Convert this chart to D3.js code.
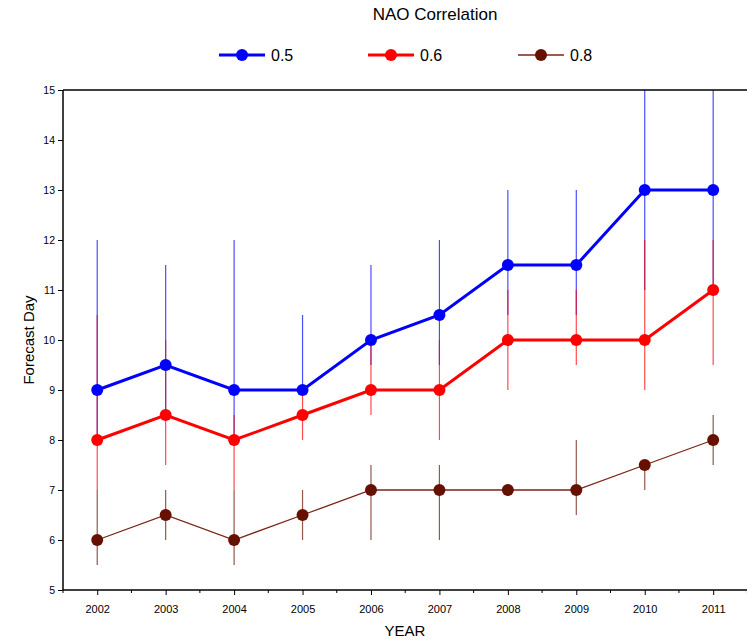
<!DOCTYPE html>
<html><head><meta charset="utf-8">
<script src="https://cdn.jsdelivr.net/npm/d3@7"></script>
<style>body{margin:0;background:#fff}svg{display:block;font-family:"Liberation Sans",Arial,sans-serif}</style>
</head><body><svg id="c" width="747" height="640"></svg>
<script>
const years = [2002,2003,2004,2005,2006,2007,2008,2009,2010,2011];
const seriesNames = ["0.5","0.6","0.8"];
const v05 = [9,9.5,9,9,10,10.5,11.5,11.5,13,13];
const lo05 = [8,8.5,8,9,9.5,9.5,10.5,10.5,11,11];
const hi05 = [12,11.5,12,10.5,11.5,12,13,13,15,15];
const v06 = [8,8.5,8,8.5,9,9,10,10,10,11];
const lo06 = [7,7.5,7,8,8.5,8,9,9.5,9,9.5];
const hi06 = [10.5,10,8.5,9,10,10,11,11,12,12];
const v08 = [6,6.5,6,6.5,7,7,7,7,7.5,8];
const lo08 = [5.5,6,5.5,6,6,6,7,6.5,7,7.5];
const hi08 = [7,7,7,7,7.5,7.5,7,8,7.5,8.5];
const yTicks = [5,6,7,8,9,10,11,12,13,14,15];
const colors = ["#0000ff","#ff0000","#661100"];
const lineColors = ["#0000ff","#ff0000","#7a2416"];
const lineWidths = [3,3,1.3];

const series = [
  {name:seriesNames[0], v:v05, lo:lo05, hi:hi05},
  {name:seriesNames[1], v:v06, lo:lo06, hi:hi06},
  {name:seriesNames[2], v:v08, lo:lo08, hi:hi08}
];

const svg = d3.select("#c");
const L = 63, T = 90, B = 590;
const x = d3.scaleLinear().domain([2001.5, 2012.5]).range([L, L + 11*68.44]);
const y = d3.scaleLinear().domain([5,15]).range([B, T]);

svg.append("defs").append("clipPath").attr("id","clip")
  .append("rect").attr("x",L).attr("y",T).attr("width",747-L).attr("height",B-T);

// Title
svg.append("text").attr("x",435).attr("y",20).attr("text-anchor","middle")
  .attr("font-size",17).text("NAO Correlation");

// Legend
const legX = [219,368,518];
series.forEach((s,i)=>{
  const g = svg.append("g");
  g.append("line").attr("x1",legX[i]).attr("x2",legX[i]+46).attr("y1",55).attr("y2",55)
    .attr("stroke",lineColors[i]).attr("stroke-width",lineWidths[i]);
  g.append("circle").attr("cx",legX[i]+23).attr("cy",55).attr("r",6).attr("fill",colors[i]);
  g.append("text").attr("x",legX[i]+52).attr("y",61).attr("font-size",16).text(s.name);
});

const plot = svg.append("g").attr("clip-path","url(#clip)");

// error bars
series.forEach((s,i)=>{
  plot.selectAll(null).data(years).enter().append("line")
    .attr("x1",d=>x(d)).attr("x2",d=>x(d))
    .attr("y1",(d,j)=>y(s.lo[j])).attr("y2",(d,j)=>y(s.hi[j]))
    .attr("stroke",colors[i]).attr("stroke-width",1.2).attr("stroke-opacity",0.7);
});

// lines and points
series.forEach((s,i)=>{
  const line = d3.line().x((d,j)=>x(years[j])).y(d=>y(d));
  plot.append("path").datum(s.v).attr("d",line).attr("fill","none")
    .attr("stroke",lineColors[i]).attr("stroke-width",lineWidths[i]);
  plot.selectAll(null).data(s.v).enter().append("circle")
    .attr("cx",(d,j)=>x(years[j])).attr("cy",d=>y(d)).attr("r",6).attr("fill",colors[i]);
});

// Axes
const ax = svg.append("g").attr("stroke","#000");
ax.append("line").attr("x1",L).attr("x2",747).attr("y1",T).attr("y2",T).attr("stroke-width",1.5);
ax.append("line").attr("x1",L).attr("x2",747).attr("y1",B).attr("y2",B).attr("stroke-width",1.5);
ax.append("line").attr("x1",L).attr("x2",L).attr("y1",T).attr("y2",B).attr("stroke-width",1.5);

const yAxis = d3.axisLeft(y).tickValues(yTicks).tickSize(5).tickPadding(3).tickFormat(d3.format("d"));
const gy = svg.append("g").attr("transform",`translate(${L},0)`).call(yAxis);
gy.select(".domain").remove();
gy.selectAll("text").attr("font-size",10.5).attr("font-family","Liberation Sans, Arial, sans-serif");

const xAxis = d3.axisBottom(x).tickValues(years).tickSize(5).tickPadding(10).tickFormat(d3.format("d"));
const gx = svg.append("g").attr("transform",`translate(0,${B})`).call(xAxis);
gx.select(".domain").remove();
gx.selectAll("text").attr("font-size",11).attr("font-family","Liberation Sans, Arial, sans-serif");
const minor = d3.range(2001.5, 2013, 1);
svg.append("g").selectAll("line").data(minor).enter().append("line")
  .attr("x1",d=>x(d)).attr("x2",d=>x(d)).attr("y1",B).attr("y2",B+3).attr("stroke","#000");

svg.append("text").attr("x",405).attr("y",636).attr("text-anchor","middle").attr("font-size",15).text("YEAR");
svg.append("text").attr("transform","translate(34,340) rotate(-90)").attr("text-anchor","middle").attr("font-size",15).text("Forecast Day");
</script></body></html>
